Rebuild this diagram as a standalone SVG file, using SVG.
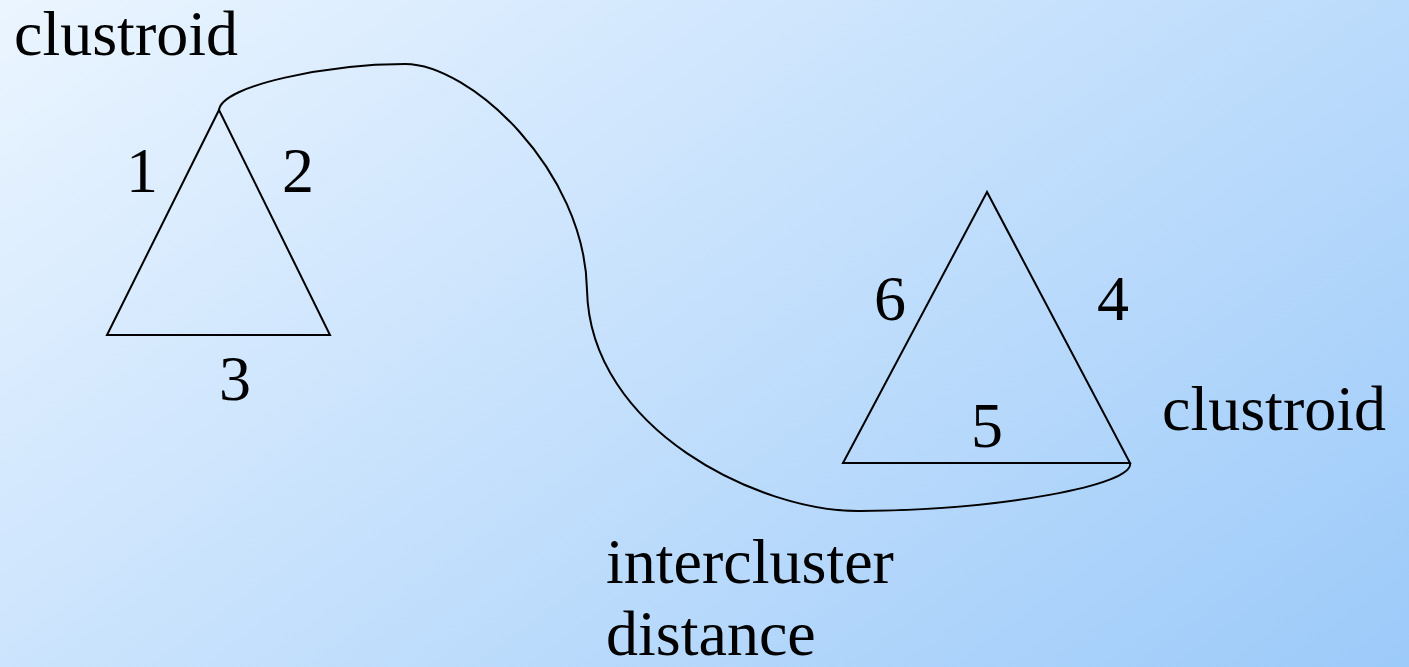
<svg xmlns="http://www.w3.org/2000/svg" width="1409" height="667" viewBox="0 0 1409 667">
<defs>
<linearGradient id="bg" x1="0" y1="0" x2="810" y2="1105" gradientUnits="userSpaceOnUse">
<stop offset="0" stop-color="#ebf5ff"/>
<stop offset="1" stop-color="#9ccaf9"/>
</linearGradient>
</defs>
<style>
text{font-family:"Liberation Serif","Times New Roman",serif;font-size:64px;fill:#000}
.ln{fill:none;stroke:#000;stroke-width:2}
</style>
<rect width="1409" height="667" fill="url(#bg)"/>
<g id="cluster1">
<polygon class="ln" points="219,110 107,335 330,335"/>
<text x="14" y="55">clustroid</text>
<text x="126" y="192">1</text>
<text x="282" y="192">2</text>
<text x="219" y="400">3</text>
</g>
<g id="cluster2">
<polygon class="ln" points="987,192 843,463 1130,463"/>
<text x="874" y="320">6</text>
<text x="1097" y="320">4</text>
<text x="971" y="447">5</text>
<text x="1162" y="430">clustroid</text>
</g>
<g id="connectors">
<path class="ln" d="M219,110 C222,85 330,64 405,64 C470,64 585,170 587,290 C590,430 760,512 860,511 C1000,510 1135,485 1130,463"/>
</g>
<g id="label">
<text x="606" y="583">intercluster</text>
<text x="606" y="655">distance</text>
</g>
</svg>
